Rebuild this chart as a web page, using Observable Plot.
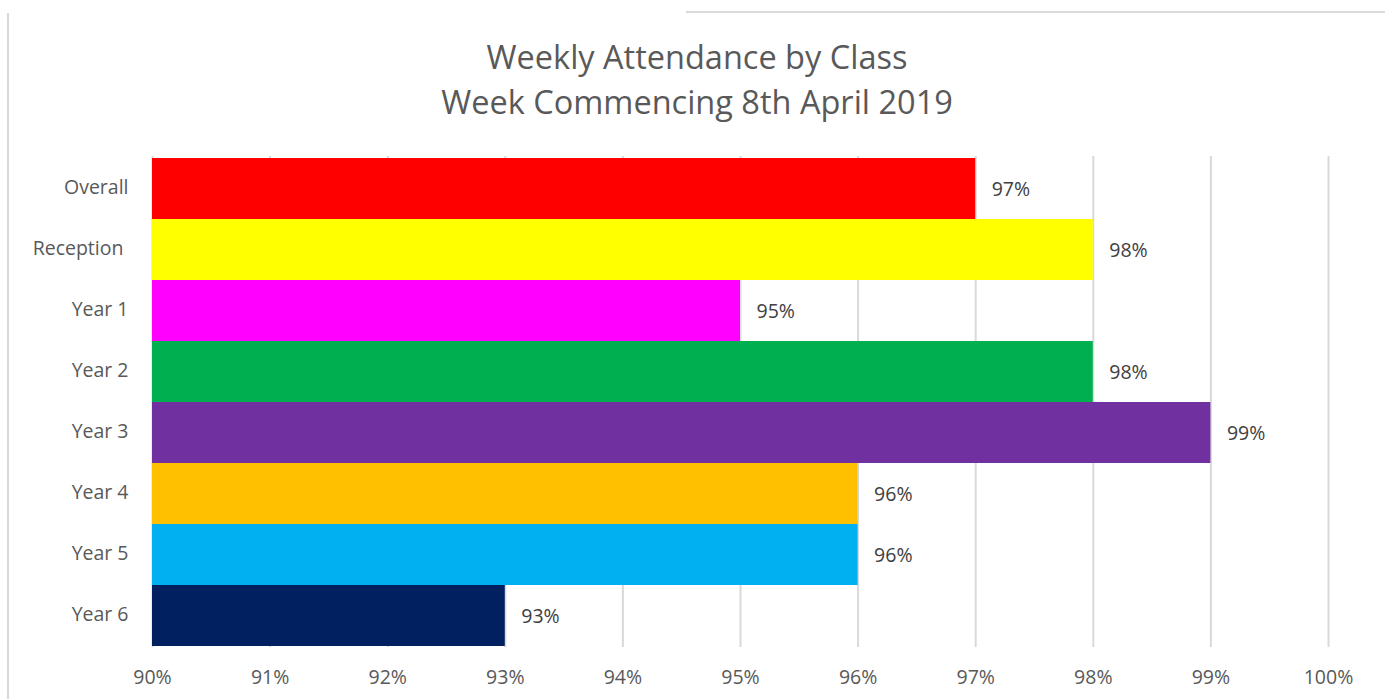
<!DOCTYPE html>
<html>
<head>
<meta charset="utf-8">
<script src="https://cdn.jsdelivr.net/npm/d3@7"></script>
<script src="https://cdn.jsdelivr.net/npm/@observablehq/plot@0.6"></script>
<style>
  html, body { margin: 0; padding: 0; background: #fff; width: 1385px; height: 699px; overflow: hidden; }
  #wrap { position: relative; width: 1385px; height: 699px; font-family: "Open Sans", sans-serif; }
  #title { position: absolute; left: 0; top: 34px; width: 1394px; text-align: center; font-size: 32.5px; line-height: 45px; color: #595959; }
  #chart { position: absolute; left: 0; top: 124px; line-height: 0; }
  #chart svg { display: block; }
  .bl { position: absolute; left: 7px; top: 13px; width: 2px; height: 700px; background: #d9d9d9; z-index: 5; }
  .bt { position: absolute; left: 686px; top: 11px; width: 700px; height: 2px; background: #d9d9d9; z-index: 5; }
</style>
</head>
<body>
<div id="wrap">
  <div id="title">Weekly Attendance by Class<br>Week Commencing 8th April 2019</div>
  <div id="chart"></div>
  <div class="bl"></div>
  <div class="bt"></div>
</div>
<script>
const classes = ["Overall", "Reception ", "Year 1", "Year 2", "Year 3", "Year 4", "Year 5", "Year 6"];
const attendance = [97, 98, 95, 98, 99, 96, 96, 93];
const barColors = ["#FF0000", "#FFFF00", "#FF00FF", "#00B050", "#7030A0", "#FFC000", "#00B0F0", "#002060"];
const xTicks = [90, 91, 92, 93, 94, 95, 96, 97, 98, 99, 100];

const data = classes.map((c, i) => ({cls: c, value: attendance[i], color: barColors[i]}));

const chart = Plot.plot({
  width: 1385,
  height: 575,
  marginLeft: 152,
  marginRight: 57,
  marginTop: 32,
  marginBottom: 52,
  style: {fontFamily: "Open Sans, sans-serif", fontSize: "19.5px", color: "#595959", background: "white"},
  x: {domain: [90, 100]},
  y: {domain: classes, padding: 0},
  marks: [
    Plot.gridX(xTicks, {stroke: "#d9d9d9", strokeOpacity: 1, strokeWidth: 2}),
    Plot.barX(data, {y: "cls", x1: 90, x2: "value", fill: "color", inset: 0}),
    Plot.text(data, {y: "cls", x: "value", text: d => d.value + "%", textAnchor: "start", dx: 16, dy: 1, fill: "#404040", fontSize: 19.5}),
    Plot.axisX(xTicks, {tickSize: 0, tickPadding: 23, tickFormat: d => d + "%", label: null, fill: "#595959", fontSize: 19.5}),
    Plot.axisY({tickSize: 0, tickPadding: 24, label: null, fill: "#595959", fontSize: 19.5, dy: -1})
  ]
});
document.getElementById("chart").appendChild(chart);
</script>
</body>
</html>
